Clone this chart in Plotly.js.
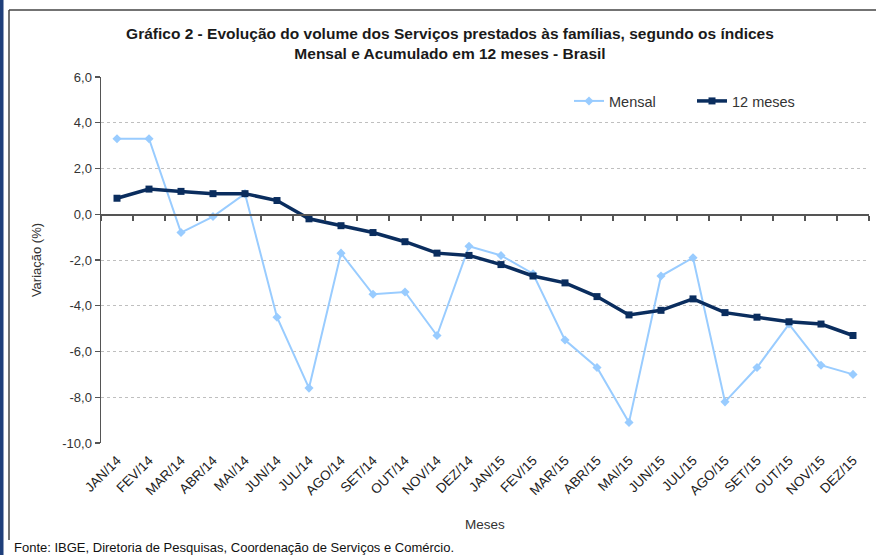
<!DOCTYPE html>
<html>
<head>
<meta charset="utf-8">
<script src="https://cdn.plot.ly/plotly-3.0.1.min.js"></script>
<style>
html,body{margin:0;padding:0;background:#fff;}
#chart{width:876px;height:555px;}
</style>
</head>
<body>
<div id="chart"></div>
<script>
var meses = ["JAN/14","FEV/14","MAR/14","ABR/14","MAI/14","JUN/14","JUL/14","AGO/14","SET/14","OUT/14","NOV/14","DEZ/14",
             "JAN/15","FEV/15","MAR/15","ABR/15","MAI/15","JUN/15","JUL/15","AGO/15","SET/15","OUT/15","NOV/15","DEZ/15"];
var mensal = [3.3, 3.3, -0.8, -0.1, 0.9, -4.5, -7.6, -1.7, -3.5, -3.4, -5.3, -1.4,
              -1.8, -2.6, -5.5, -6.7, -9.1, -2.7, -1.9, -8.2, -6.7, -4.8, -6.6, -7.0];
var doze = [0.7, 1.1, 1.0, 0.9, 0.9, 0.6, -0.2, -0.5, -0.8, -1.2, -1.7, -1.8,
            -2.2, -2.7, -3.0, -3.6, -4.4, -4.2, -3.7, -4.3, -4.5, -4.7, -4.8, -5.3];
var yTicks = [6, 4, 2, 0, -2, -4, -6, -8, -10];
var yTickText = ["6,0","4,0","2,0","0,0","-2,0","-4,0","-6,0","-8,0","-10,0"];

var W = 876, H = 555;
var M = {l: 101, r: 7, t: 77, b: 112, autoexpand: false};
var PW = W - M.l - M.r, PH = H - M.t - M.b;
function px(x){ return (x - M.l) / PW; }
function py(y){ return (H - M.b - y) / PH; }

var FONT = "Liberation Sans, Arial, sans-serif";

var traces = [
  {x: meses, y: mensal, name: "Mensal", type: "scatter", mode: "lines+markers",
   line: {color: "#99CCFF", width: 2}, marker: {symbol: "diamond", size: 7, color: "#99CCFF"},
   hoverinfo: "x+y"},
  {x: meses, y: doze, name: "12 meses", type: "scatter", mode: "lines+markers",
   line: {color: "#0A2D5E", width: 3.5}, marker: {symbol: "square", size: 7, color: "#0A2D5E"},
   hoverinfo: "x+y"},
  {x: meses, y: doze, xaxis: "x2", yaxis: "y", type: "scatter", mode: "lines",
   line: {width: 0, color: "rgba(0,0,0,0)"}, showlegend: false, hoverinfo: "skip"}
];

var layout = {
  width: W, height: H,
  margin: M,
  paper_bgcolor: "#fff", plot_bgcolor: "#fff",
  font: {family: FONT, color: "#333", size: 12},
  title: {
    text: "<b>Gráfico 2 - Evolução do volume dos Serviços prestados às famílias, segundo os índices<br>Mensal e Acumulado em 12 meses - Brasil</b>",
    font: {family: FONT, size: 15.5, color: "#1a1a1a"},
    x: px(450), xref: "paper", xanchor: "center",
    y: 1 - 39/H, yref: "container", yanchor: "top"
  },
  showlegend: true,
  legend: {
    orientation: "h", x: px(569), xanchor: "left", y: py(101), yanchor: "middle",
    font: {family: FONT, size: 14.5, color: "#333"}, bgcolor: "rgba(0,0,0,0)",
    entrywidth: 78, entrywidthmode: "pixels", tracegroupgap: 0
  },
  xaxis: {
    type: "category", categoryarray: meses, range: [-0.5, 23.5], fixedrange: true,
    showline: false, showgrid: false, zeroline: false, ticks: "",
    tickangle: -45, tickfont: {family: FONT, size: 13.5, color: "#222"}, ticklabelstandoff: 6,
    title: {text: "Meses", font: {family: FONT, size: 13.5, color: "#333"}, standoff: 22},
    automargin: false
  },
  xaxis2: {
    type: "category", categoryarray: meses, range: [-0.5, 23.5], overlaying: "x",
    anchor: "free", position: (0 - (-10)) / 16, side: "bottom",
    showline: true, linecolor: "#555", linewidth: 1.5,
    ticks: "outside", ticklen: 5, tickwidth: 1.2, tickcolor: "#555", tickson: "boundaries",
    showticklabels: false, showgrid: false, zeroline: false
  },
  yaxis: {
    range: [-10, 6], tickvals: yTicks, ticktext: yTickText, fixedrange: true,
    showline: true, linecolor: "#555", linewidth: 1.5,
    ticks: "outside", ticklen: 5, tickwidth: 1.2, tickcolor: "#555",
    showgrid: true, gridcolor: "#BFBFBF", griddash: "3px,3px", gridwidth: 1,
    zeroline: false,
    tickfont: {family: FONT, size: 13, color: "#333"},
    title: {text: "Variação (%)", font: {family: FONT, size: 13, color: "#333"}, standoff: 17},
    automargin: false
  },
  shapes: [
    {type: "rect", xref: "paper", yref: "paper", x0: px(0), x1: px(3.5), y0: py(H), y1: py(0),
     fillcolor: "#1F3F7A", line: {width: 0}, layer: "above"},
    {type: "line", xref: "paper", yref: "paper", x0: px(9), x1: px(W), y0: py(10), y1: py(10),
     line: {color: "#444", width: 1.5}},
    {type: "line", xref: "paper", yref: "paper", x0: px(9), x1: px(9), y0: py(10), y1: py(540),
     line: {color: "#444", width: 1.5}}
  ],
  annotations: [
    {text: "Fonte: IBGE, Diretoria de Pesquisas, Coordenação de Serviços e Comércio.",
     xref: "paper", yref: "paper", x: px(12), y: py(547), xanchor: "left", yanchor: "middle",
     showarrow: false, font: {family: FONT, size: 13, color: "#111"}}
  ]
};

Plotly.newPlot("chart", traces, layout, {displayModeBar: false, staticPlot: true});
</script>
</body>
</html>
